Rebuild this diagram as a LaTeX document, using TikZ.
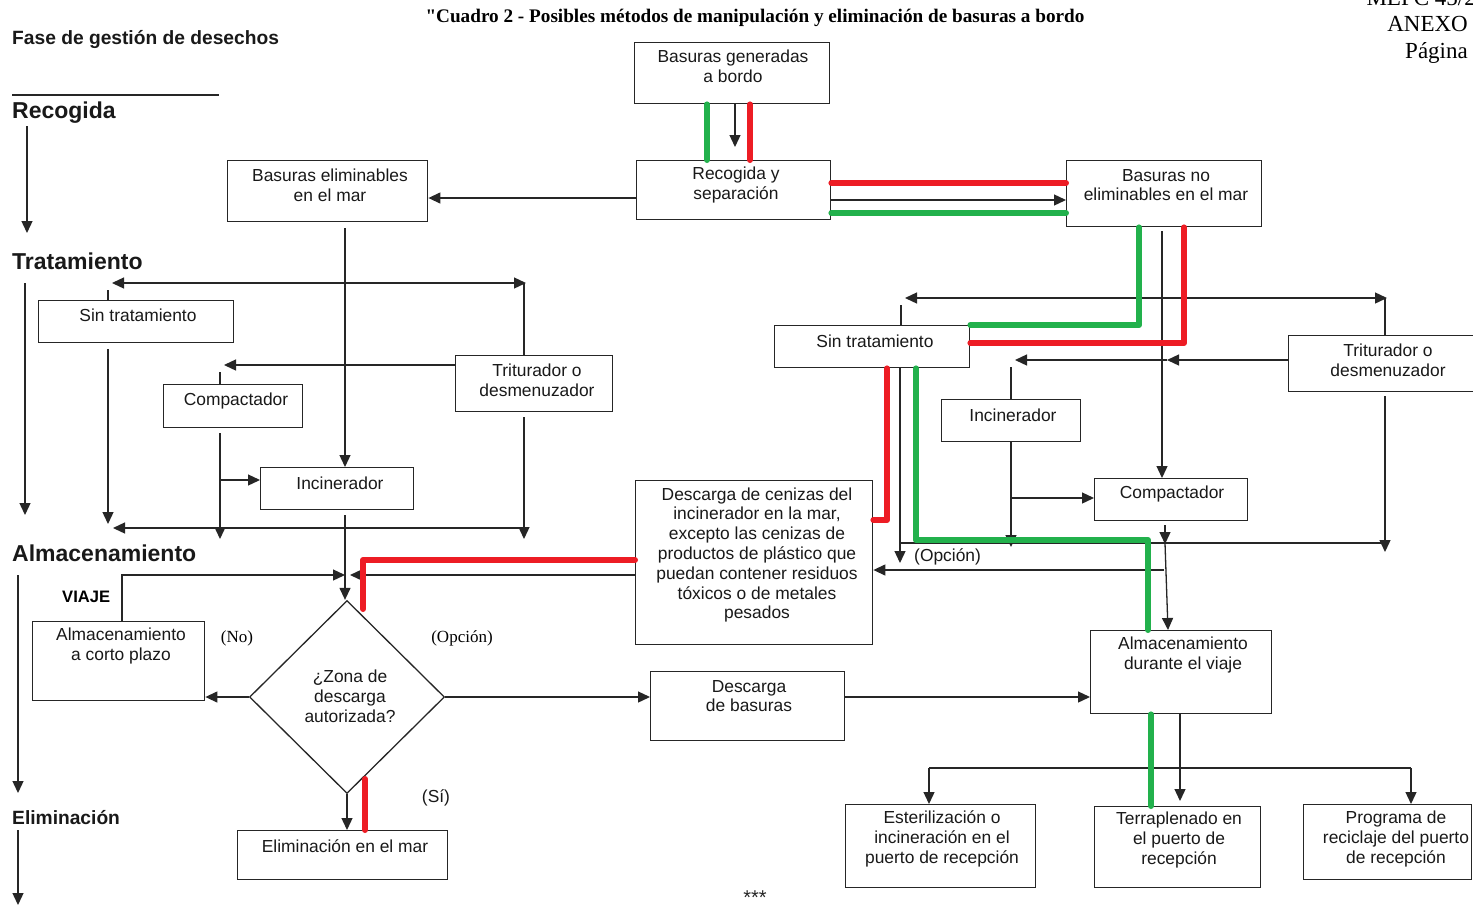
\documentclass[tikz,border=0pt]{standalone}
\usepackage{fontspec}
\setmainfont{Liberation Sans}
\newfontfamily\seriff{Liberation Serif}
\usetikzlibrary{arrows.meta,shapes.geometric}
\definecolor{gcol}{RGB}{34,177,76}
\definecolor{rcol}{RGB}{237,28,36}
\newcommand\fs{\fontsize{17.4}{19.8}\selectfont}
\tikzset{
  ln/.style={line width=1.3pt, draw=black!85},
  ar/.style={ln, -{Triangle[length=12pt,width=11pt]}},
  artwo/.style={ln, {Triangle[length=12pt,width=11pt]}-{Triangle[length=12pt,width=11pt]}},
  box/.style={draw=black!85, line width=1.4pt, inner sep=0pt, anchor=north west},
  txt/.style={font=\fs, align=center, inner sep=0pt, text=black!90},
  grn/.style={line width=6pt, draw=gcol, line cap=round, line join=round},
  rd/.style={line width=6pt, draw=rcol, line cap=round, line join=round},
  hd/.style={font=\bfseries\fontsize{23}{26}\selectfont, anchor=base west, inner sep=0pt, text=black!90},
  hdsmall/.style={font=\bfseries\fontsize{19.2}{22}\selectfont, anchor=base west, inner sep=0pt, text=black!90},
}
\begin{document}
\begin{tikzpicture}[x=1pt,y=-1pt]
\fill[white] (0,0) rectangle (1473,911);
\useasboundingbox (0,0) rectangle (1473,911);

% ---------- header ----------
\node[font=\seriff\bfseries\fontsize{19.2}{22}\selectfont, anchor=base, inner sep=0pt] (title) at (755,22) {"Cuadro 2 - Posibles métodos de manipulación y eliminación de basuras a bordo};
\node[font=\seriff\fontsize{23}{26}\selectfont, anchor=base east, inner sep=0pt] (mepc) at (1476,5) {MEPC 45/2};
\node[font=\seriff\fontsize{23}{26}\selectfont, anchor=base east, inner sep=0pt] (anexo) at (1468,31) {ANEXO};
\node[font=\seriff\fontsize{23}{26}\selectfont, anchor=base east, inner sep=0pt] (pag) at (1468,58) {Página};

\node[hdsmall] (fase) at (12,44) {Fase de gestión de desechos};
\draw[line width=2pt, black!85] (12,95) -- (219,95);
\node[hd] (rec) at (12,118) {Recogida};
\node[hd] (tra) at (12,269) {Tratamiento};
\node[hd] (alm) at (12,561) {Almacenamiento};
\node[hdsmall] (eli) at (12,824) {Eliminación};
\node[font=\bfseries\fontsize{16.6}{19}\selectfont, anchor=base west, inner sep=0pt] (viaje) at (62,602) {VIAJE};
\draw[ar] (27,126) -- (27,233);
\draw[ar] (25,283) -- (25,515);
\draw[ar] (18,575) -- (18,793);
\draw[ar] (18,830) -- (18,905);

% ---------- boxes ----------
\node[box, minimum width=195, minimum height=61] (b1) at (634,42) {};
\node[box, minimum width=194, minimum height=59] (b2) at (636,160) {};
\node[box, minimum width=200, minimum height=61] (b3) at (227,160) {};
\node[box, minimum width=195, minimum height=66] (b4) at (1066,160) {};
\node[box, minimum width=195, minimum height=42] (ls) at (38,300) {};
\node[box, minimum width=157, minimum height=56] (lt) at (455,355) {};
\node[box, minimum width=139, minimum height=43] (lc) at (163,384) {};
\node[box, minimum width=153, minimum height=42] (li) at (260,467) {};
\node[box, minimum width=195, minimum height=42] (rs) at (774,325) {};
\node[box, minimum width=195, minimum height=56] (rt) at (1288,335) {};
\node[box, minimum width=139, minimum height=42] (ri) at (941,399) {};
\node[box, minimum width=153, minimum height=42] (rc) at (1094,478) {};
\node[box, minimum width=237, minimum height=164] (dc) at (635,480) {};
\node[box, minimum width=172, minimum height=79] (acp) at (32,621) {};
\node[draw=black!85, line width=1.3pt, diamond, minimum width=195, minimum height=193, inner sep=0pt] (dz) at (347,697) {};
\node[box, minimum width=194, minimum height=69] (db) at (650,671) {};
\node[box, minimum width=181, minimum height=83] (av) at (1090,630) {};
\node[box, minimum width=210, minimum height=49] (em) at (237,830) {};
\node[box, minimum width=190, minimum height=83] (es) at (845,804) {};
\node[box, minimum width=166, minimum height=81] (te) at (1094,806) {};
\node[box, minimum width=168, minimum height=75] (pr) at (1303,804) {};

% ---------- box texts ----------
\node[txt] (b1t) at (733,66) {Basuras generadas\\a bordo};
\node[txt] (b2t) at (736,185) {Recogida y\\separación};
\node[txt] (b3t) at (330,185) {Basuras eliminables\\en el mar};
\node[txt] (b4t) at (1166,185) {Basuras no\\eliminables en el mar};
\node[txt] (lst) at (138,315) {Sin tratamiento};
\node[txt] (ltt) at (537,380) {Triturador o\\desmenuzador};
\node[txt] (lct) at (236,401) {Compactador};
\node[txt] (lit) at (340,483) {Incinerador};
\node[txt] (rst) at (875,341) {Sin tratamiento};
\node[txt] (rtt) at (1388,360) {Triturador o\\desmenuzador};
\node[txt] (rit) at (1013,415) {Incinerador};
\node[txt] (rct) at (1172,494) {Compactador};
\node[txt] (dct) at (757,555) {Descarga de cenizas del\\incinerador en la mar,\\excepto las cenizas de\\productos de plástico que\\puedan contener residuos\\tóxicos o de metales\\pesados};
\node[txt] (acpt) at (121,646) {Almacenamiento\\a corto plazo};
\node[txt] (dzt) at (350,696) {¿Zona de\\descarga\\autorizada?};
\node[txt] (dbt) at (749,696) {Descarga\\de basuras};
\node[txt] (avt) at (1183,655) {Almacenamiento\\durante el viaje};
\node[txt] (emt) at (345,846) {Eliminación en el mar};
\node[txt] (est) at (942,839) {Esterilización o\\incineración en el\\puerto de recepción};
\node[txt] (tet) at (1179,840) {Terraplenado en\\el puerto de\\recepción};
\node[txt] (prt) at (1396,839) {Programa de\\reciclaje del puerto\\de recepción};

% ---------- labels ----------
\node[font=\seriff\fontsize{17}{20}\selectfont, inner sep=0pt] (lno) at (237,638) {(No)};
\node[font=\seriff\fontsize{17}{20}\selectfont, inner sep=0pt] (lop1) at (462,638) {(Opción)};
\node[txt] (lsi) at (436,798) {(Sí)};
\node[txt, anchor=west] (lop2) at (914,557) {(Opción)};
\node[font=\fontsize{20}{22}\selectfont, anchor=base, inner sep=0pt, text=black!85] (stars) at (755,904) {***};

% ---------- thin black connectors ----------
\draw[ar] (b1.south -| 735,0) -- (735,147);
\draw[ar] (b2.west |- 0,198) -- (b3.east |- 0,198);
\draw[ar] (b2.east |- 0,200) -- (b4.west |- 0,200);
\draw[ar] ([yshift=-6pt]b3.south -| 345,0) -- (li.north -| 345,0);

% left treatment
\draw[ln] (ls.north -| 108,0) -- (108,290);
\draw[artwo] (112,283) -- (526,283);
\draw[ln] (524,283) -- (lt.north -| 524,0);
\draw[ar] (lt.west |- 0,365) -- (224,365);
\draw[ln] (220,372) -- (lc.north -| 220,0);
\draw[ar] ([yshift=-6pt]ls.south -| 108,0) -- (108,524);
\draw[ar] (524,528) -- (113,528);
\draw[ar] ([yshift=-5pt]lt.south -| 524,0) -- (524,539);
\draw[ar] ([yshift=-5pt]lc.south -| 220,0) -- (220,539);
\draw[ar] (220,480) -- (li.west |- 0,480);
\draw[ar] ([yshift=-5pt]li.south -| 345,0) -- (dz.north -| 345,0);
\draw[ar] (acp.north -| 122,0) -- (122,575) -- (345,575);
\draw[ar] (dc.west |- 0,575) -- (350,575);
\draw[ar] (dz.west) -- (acp.east |- dz.west);
\draw[ar] (dz.south) -- (em.north -| dz.south);
\draw[ar] (dz.east) -- (db.west |- dz.east);
\draw[ar] (db.east |- 0,697) -- (av.west |- 0,697);

% right treatment
\draw[ar] ([yshift=-4pt]b4.south -| 1162,0) -- (rc.north -| 1162,0);
\draw[ln] (rs.north -| 901,0) -- (901,305);
\draw[artwo] (905,298) -- (1387,298);
\draw[ln] (rt.north -| 1385,0) -- (1385,298);
\draw[ar] (rt.west |- 0,360) -- (1167,360);
\draw[ar] (1167,360) -- (1015,360);
\draw[ln] (1011,367) -- (ri.north -| 1011,0);
\draw[ar] (rs.south -| 900,0) -- (900,563);
\draw[ln] (900,543) -- (1385,543);
\draw[ar] ([yshift=-4pt]rt.south -| 1385,0) -- (1385,552);
\draw[ar] (ri.south -| 1011,0) -- (1011,547);
\draw[ar] (1011,498) -- (rc.west |- 0,498);
\draw[ar] ([yshift=-4pt]rc.south -| 1165,0) -- (1165,544);
\draw[ar] (1165,543) -- (av.north -| 1168,0);
\draw[ar] (1164,570) -- (dc.east |- 0,570);
\draw[ar] (av.south -| 1180,0) -- (1180,801);
\draw[ln] (929,768) -- (1411,768);
\draw[ar] (929,768) -- (es.north -| 929,0);
\draw[ar] (1411,768) -- (pr.north -| 1411,0);

% ---------- green path ----------
\draw[grn] (b1.south -| 707,0) -- (b2.north -| 707,0);
\draw[grn] (b2.east |- 0,213) -- (b4.west |- 0,213);
\draw[grn] (b4.south -| 1139,0) -- (1139,325) -- (rs.east |- 0,325);
\draw[grn] (rs.south -| 916,0) -- (916,540) -- (1148,540) -- (av.north -| 1148,0);
\draw[grn] (av.south -| 1151,0) -- (te.north -| 1151,0);

% ---------- red path ----------
\draw[rd] (b1.south -| 750,0) -- (b2.north -| 750,0);
\draw[rd] (b2.east |- 0,183) -- (b4.west |- 0,183);
\draw[rd] (b4.south -| 1184,0) -- (1184,343) -- (rs.east |- 0,343);
\draw[rd] (rs.south -| 887,0) -- (887,520) -- (dc.east |- 0,520);
\draw[rd] (dc.west |- 0,560) -- (363,560) -- (363,609);
\draw[rd] (365,779) -- (em.north -| 365,0);
\end{tikzpicture}
\end{document}
